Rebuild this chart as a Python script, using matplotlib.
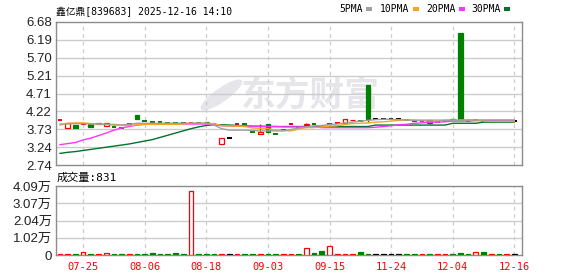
import numpy as np
import matplotlib.pyplot as plt
from matplotlib.patches import Rectangle, Ellipse

title = "鑫亿鼎[839683] 2025-12-16 14:10"
price_ticks = [2.74, 3.24, 3.73, 4.22, 4.71, 5.21, 5.70, 6.19, 6.68]
vol_ticks = [0, 10225, 20450, 30675, 40900]
vol_tick_labels = ["0", "1.02万", "2.04万", "3.07万", "4.09万"]
date_idx = [3, 11, 19, 27, 35, 43, 51, 59]
date_labels = ["07-25", "08-06", "08-18", "09-03", "09-15", "11-24", "12-04", "12-16"]
last_volume = 831
prev_close0 = 3.90

opens = [3.98, 3.77, 3.84, 3.88, 3.86, 3.87, 3.82, 3.78, 3.77, 3.86,
         4.12, 3.94, 3.93, 3.92, 3.91, 3.90, 3.89, 3.90, 3.89, 3.93,
         3.88, 3.32, 3.48, 3.88, 3.86, 3.66, 3.59, 3.86, 3.59, 3.70,
         3.86, 3.80, 3.84, 3.87, 3.82, 3.87, 3.90, 3.89, 3.97, 3.96,
         4.94, 4.01, 4.01, 4.01, 4.01, 3.97, 3.95, 3.96, 3.98, 3.92,
         3.95, 4.01, 6.39, 3.96, 3.97, 3.95, 3.96, 3.94, 3.95, 3.95]
closes = [3.98, 3.89, 3.77, 3.91, 3.80, 3.89, 3.89, 3.78, 3.77, 3.86,
          4.01, 3.94, 3.93, 3.92, 3.91, 3.90, 3.89, 3.90, 3.89, 3.92,
          3.88, 3.48, 3.48, 3.88, 3.86, 3.66, 3.64, 3.66, 3.59, 3.70,
          3.86, 3.80, 3.88, 3.87, 3.82, 3.87, 3.90, 4.01, 3.98, 3.96,
          4.01, 4.01, 4.01, 4.01, 4.01, 3.97, 3.95, 3.96, 3.89, 3.92,
          3.95, 3.98, 3.98, 3.96, 3.97, 3.95, 3.96, 3.94, 3.95, 3.95]
highs = [3.98, 3.89, 3.84, 3.91, 3.86, 3.89, 3.89, 3.78, 3.77, 3.86,
         4.12, 3.94, 3.93, 3.92, 3.91, 3.90, 3.89, 3.90, 3.89, 3.93,
         3.88, 3.48, 3.48, 3.88, 3.86, 3.66, 3.86, 3.86, 3.59, 3.70,
         3.86, 3.80, 3.89, 3.87, 3.82, 3.87, 3.90, 4.01, 3.98, 3.96,
         4.94, 4.01, 4.01, 4.01, 4.01, 3.97, 3.95, 3.96, 3.98, 3.92,
         3.95, 4.01, 6.39, 3.96, 3.97, 3.95, 3.96, 3.94, 3.95, 3.95]
lows = [3.98, 3.77, 3.77, 3.88, 3.80, 3.87, 3.82, 3.78, 3.77, 3.86,
        4.01, 3.94, 3.93, 3.92, 3.91, 3.90, 3.89, 3.90, 3.89, 3.92,
        3.88, 3.32, 3.48, 3.88, 3.86, 3.66, 3.59, 3.66, 3.59, 3.70,
        3.86, 3.80, 3.84, 3.87, 3.82, 3.87, 3.90, 3.89, 3.97, 3.96,
        3.92, 4.01, 4.01, 4.01, 4.01, 3.97, 3.95, 3.96, 3.86, 3.92,
        3.95, 3.98, 3.98, 3.96, 3.97, 3.95, 3.96, 3.94, 3.95, 3.95]
volumes = [400, 500, 500, 2000, 500, 400, 1200, 400, 400, 400,
           500, 400, 1000, 400, 400, 1000, 400, 38000, 400, 400,
           400, 400, 400, 400, 400, 400, 400, 400, 400, 400,
           400, 500, 4000, 1200, 2400, 5300, 400, 400, 400, 1800,
           400, 400, 400, 400, 400, 400, 400, 400, 400, 400,
           400, 400, 1200, 400, 1800, 1800, 400, 400, 400, 831]

ma5 = [3.87, 3.87, 3.88, 3.88, 3.87, 3.87, 3.86, 3.84, 3.84, 3.86,
       3.89, 3.89, 3.89, 3.89, 3.89, 3.89, 3.89, 3.89, 3.89, 3.89,
       3.84, 3.74, 3.70, 3.70, 3.70, 3.69, 3.68, 3.68, 3.68, 3.68,
       3.72, 3.76, 3.79, 3.82, 3.83, 3.85, 3.87, 3.90, 3.92, 3.95,
       3.97, 3.99, 4.00, 4.00, 3.99, 3.98, 3.97, 3.96, 3.95, 3.95,
       3.97, 3.97, 3.97, 3.98, 3.98, 3.98, 3.98, 3.98, 3.98, 3.98]
ma10 = [3.84, 3.89, 3.90, 3.90, 3.88, 3.86, 3.86, 3.86, 3.84, 3.82,
        3.85, 3.86, 3.86, 3.86, 3.86, 3.86, 3.87, 3.89, 3.89, 3.89,
        3.88, 3.83, 3.81, 3.81, 3.80, 3.76, 3.75, 3.74, 3.70, 3.69,
        3.68, 3.73, 3.77, 3.77, 3.79, 3.81, 3.82, 3.86, 3.88, 3.89,
        3.90, 3.92, 3.93, 3.95, 3.97, 3.98, 3.98, 3.98, 3.98, 3.98,
        3.98, 3.98, 3.98, 3.98, 3.98, 3.95, 3.94, 3.94, 3.94, 3.94]
ma20 = [3.30, 3.33, 3.36, 3.43, 3.48, 3.55, 3.62, 3.70, 3.76, 3.80,
        3.84, 3.86, 3.87, 3.87, 3.87, 3.87, 3.87, 3.87, 3.87, 3.87,
        3.86, 3.82, 3.82, 3.82, 3.82, 3.80, 3.80, 3.80, 3.80, 3.79,
        3.79, 3.79, 3.79, 3.79, 3.77, 3.77, 3.77, 3.77, 3.77, 3.77,
        3.77, 3.78, 3.80, 3.82, 3.85, 3.86, 3.89, 3.90, 3.92, 3.92,
        3.93, 3.95, 3.95, 3.95, 3.96, 3.97, 3.97, 3.97, 3.97, 3.97]
ma30 = [3.06, 3.09, 3.11, 3.14, 3.17, 3.20, 3.23, 3.26, 3.29, 3.32,
        3.36, 3.40, 3.44, 3.50, 3.56, 3.62, 3.68, 3.74, 3.79, 3.83,
        3.85, 3.85, 3.84, 3.83, 3.82, 3.81, 3.81, 3.80, 3.80, 3.80,
        3.80, 3.80, 3.80, 3.80, 3.80, 3.80, 3.80, 3.80, 3.80, 3.80,
        3.80, 3.84, 3.84, 3.84, 3.84, 3.84, 3.84, 3.84, 3.84, 3.84,
        3.84, 3.89, 3.89, 3.89, 3.89, 3.92, 3.92, 3.92, 3.92, 3.92]

RED = '#ff0000'
GREEN = '#008000'
plt.rcParams['font.family'] = ['Liberation Sans', 'Noto Sans CJK SC']
mono = ['DejaVu Sans Mono', 'Noto Sans CJK SC']

fig = plt.figure(figsize=(5.78, 2.76), dpi=100)
ax = fig.add_axes([56 / 578, 111 / 276, 466 / 578, 143 / 276])
axv = fig.add_axes([56 / 578, 21 / 276, 466 / 578, 69 / 276])

# candle colours: body direction, flat ones by previous close
colors = []
prev = prev_close0
for o, c in zip(opens, closes):
    if c > o or (c == o and c > prev):
        colors.append(RED)
    elif c < o or (c == o and c < prev):
        colors.append(GREEN)
    else:
        colors.append('black')
    prev = c

w = 0.62
for i in range(len(opens)):
    o, c, h, l, col = opens[i], closes[i], highs[i], lows[i], colors[i]
    if h > l:
        ax.vlines(i, l, h, color=col, lw=0.9, zorder=2)
    if o == c:
        ax.hlines(c, i - w / 2, i + w / 2, color=col, lw=1.4, zorder=3)
    else:
        hollow = c > o
        ax.add_patch(Rectangle((i - w / 2, min(o, c)), w, abs(c - o),
                               facecolor='white' if hollow else col,
                               edgecolor=col, lw=0.9, zorder=3))
    vh = volumes[i]
    axv.add_patch(Rectangle((i - w / 2, 0), w, vh,
                            facecolor='white' if col == RED else col,
                            edgecolor=col, lw=0.9, zorder=3))

x = np.arange(len(opens))
ax.plot(x, ma30, color='#00732e', lw=1.0, zorder=4)
ax.plot(x, ma20, color='#ff33ff', lw=1.0, zorder=4)
ax.plot(x, ma10, color='#f5a623', lw=1.0, zorder=4)
ax.plot(x, ma5, color='#a0a0a0', lw=1.0, zorder=4)

# watermark
ax.text(0.545, 0.49, "东方财富", transform=ax.transAxes, fontsize=25,
        fontweight='bold', color='#e6e6ea', ha='center', va='center',
        family=['Noto Sans CJK SC'], zorder=0)
ax.add_patch(Ellipse((0.355, 0.49), 0.045, 0.23, angle=-20, transform=ax.transAxes,
                     facecolor='#e6e6ea', edgecolor='none', zorder=0))

for a in (ax, axv):
    a.set_xlim(-0.52, 60)
    for s in a.spines.values():
        s.set_color('#8c8c8c')
        s.set_linewidth(1.0)
    a.tick_params(length=0, pad=3)
    for d in date_idx:
        a.axvline(d, color='#cccccc', lw=0.9, ls=(0, (3, 3)), zorder=1)

ax.set_ylim(2.74, 6.68)
ax.set_yticks(np.linspace(2.74, 6.68, 9))
ax.set_yticklabels([f"{t:.2f}" for t in price_ticks], fontsize=9.5, color='#222222')
ax.set_xticks([])
for t in np.linspace(2.74, 6.68, 9)[1:-1]:
    ax.axhline(t, color='#cccccc', lw=1.0, zorder=1)

axv.set_ylim(0, 40900)
axv.set_yticks(vol_ticks)
axv.set_yticklabels(vol_tick_labels, fontsize=9.5, color='#222222')
for t in vol_ticks[1:-1]:
    axv.axhline(t, color='#cccccc', lw=1.0, zorder=1)
axv.set_xticks(date_idx)
axv.set_xticklabels(date_labels, family=mono, fontsize=7.5, color=RED)
axv.tick_params(axis='x', pad=5)

fig.text(56 / 578, 1 - 12 / 276, title, family=mono, fontsize=7,
         ha='left', va='center', color='black')
fig.text(57 / 578, 1 - 178 / 276, f"成交量:{last_volume}", family=mono,
         fontsize=8, ha='left', va='center', color='black')

# legend
legend_items = [("5PMA", '#a0a0a0', 339), ("10PMA", '#f5a623', 380),
                ("20PMA", '#ff33ff', 426), ("30PMA", '#00732e', 471)]
for name, col, px in legend_items:
    t = fig.text(px / 578, 1 - 9 / 276, name, family=mono, fontsize=7,
                 ha='left', va='center', color='black')
    fig.add_artist(Rectangle(((px + 6.2 * len(name) + 2) / 578, 1 - 10.5 / 276),
                             6 / 578, 3 / 276, transform=fig.transFigure,
                             facecolor=col, edgecolor='none'))

plt.savefig('out.png', dpi=100)
